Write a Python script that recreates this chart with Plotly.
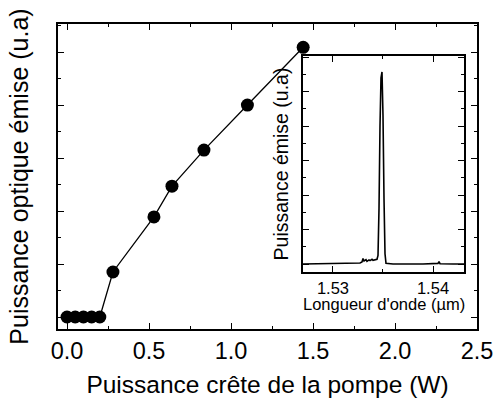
import plotly.graph_objects as go

# Main curve: pump peak power (W) vs emitted optical power (a.u.)
pump_power = [0.0, 0.05, 0.10, 0.15, 0.20, 0.28, 0.53, 0.64, 0.835, 1.10, 1.44]
emitted_power = [0.0, 0.0, 0.0, 0.0, 0.0, 0.85, 1.89, 2.47, 3.15, 4.0, 5.09]

# Inset: emission spectrum
wavelength = [1.5270, 1.5300, 1.5320, 1.5327, 1.5329, 1.5330, 1.5331, 1.5333, 1.5334,
              1.5336, 1.5337, 1.5339, 1.5340, 1.5342, 1.5344, 1.5345, 1.5346, 1.5347,
              1.5348, 1.5349, 1.5350, 1.5351, 1.5352, 1.5353, 1.5360, 1.5390, 1.5405,
              1.5406, 1.5407, 1.5420, 1.5431]
spectrum = [0.0, 0.01, 0.02, 0.03, 0.06, 0.16, 0.09, 0.13, 0.08, 0.12, 0.10, 0.14,
            0.11, 0.13, 0.14, 0.25, 1.6, 4.0, 5.4, 5.57, 4.3, 1.9, 0.3, 0.02, 0.0,
            0.0, 0.02, 0.07, 0.01, 0.0, 0.0]

x_ticks = [0.0, 0.5, 1.0, 1.5, 2.0, 2.5]
x_ticklabels = ["0.0", "0.5", "1.0", "1.5", "2.0", "2.5"]
inset_ticks = [1.53, 1.54]
inset_ticklabels = ["1.53", "1.54"]

FONT = "Liberation Sans, Arial, sans-serif"
INSET_X = [0.5847, 0.969]

fig = go.Figure()
fig.add_trace(go.Scatter(
    x=pump_power, y=emitted_power, mode="lines+markers",
    line=dict(color="black", width=1.3),
    marker=dict(color="black", size=13),
    xaxis="x", yaxis="y", showlegend=False, cliponaxis=False))
fig.add_trace(go.Scatter(
    x=wavelength, y=spectrum, mode="lines",
    line=dict(color="black", width=1.6),
    xaxis="x2", yaxis="y2", showlegend=False))

axis_common = dict(showgrid=False, zeroline=False, showline=True, linecolor="black",
                   linewidth=1.5, mirror="allticks", ticks="inside", tickcolor="black",
                   tickwidth=1, ticklen=6, automargin=False)

fig.update_layout(
    width=495, height=400,
    margin=dict(l=58, r=18, t=24, b=71),
    paper_bgcolor="white", plot_bgcolor="white",
    font=dict(family=FONT, color="black"),
    xaxis=dict(**axis_common, domain=[0, 1], range=[-0.055, 2.5],
               tickvals=x_ticks, ticktext=x_ticklabels,
               tickfont=dict(size=23.5, family=FONT),
               minor=dict(dtick=0.25, tick0=0, ticks="inside", ticklen=3, tickcolor="black"),
               title=dict(text="Puissance crête de la pompe (W)", font=dict(size=24.5, family=FONT), standoff=13),
               anchor="y"),
    yaxis=dict(**axis_common, domain=[0, 1], range=[-0.226, 5.53],
               dtick=1, tick0=0, showticklabels=False,
               minor=dict(dtick=0.5, tick0=0, ticks="inside", ticklen=3, tickcolor="black"),
               title=dict(text="Puissance optique émise (u.a)", font=dict(size=25, family=FONT), standoff=21),
               anchor="x"),
    xaxis2=dict(**axis_common, domain=INSET_X, range=[1.5270, 1.5431],
                tickvals=inset_ticks, ticktext=inset_ticklabels,
                tickfont=dict(size=16.5, family=FONT),
                minor=dict(dtick=0.005, tick0=1.53, ticks="inside", ticklen=3, tickcolor="black"),
                anchor="y2"),
    yaxis2=dict(**axis_common, domain=[0.1869, 0.895], range=[-0.23, 6.03],
                dtick=1, tick0=0, showticklabels=False,
                minor=dict(dtick=0.5, tick0=0, ticks="inside", ticklen=3, tickcolor="black"),
                title=dict(text="Puissance émise (u.a)", font=dict(size=19.5, family=FONT), standoff=7),
                anchor="x2"),
    annotations=[dict(text="Longueur d'onde (µm)", xref="paper", yref="paper",
                      x=sum(INSET_X) / 2, y=0.081, xanchor="center", yanchor="middle",
                      showarrow=False, font=dict(size=16.5, family=FONT))],
)

fig.write_html("out.html", config={"displayModeBar": False},
               post_script="document.body.style.margin='0';document.body.style.padding='0';")
